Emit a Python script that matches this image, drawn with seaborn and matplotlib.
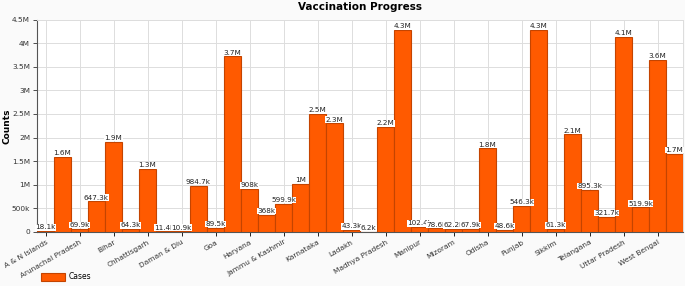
import matplotlib
matplotlib.use("Agg")
import matplotlib.pyplot as plt
import seaborn as sns
import pandas as pd
from matplotlib.ticker import FuncFormatter, MultipleLocator

states = ["A & N Islands", "Andhra Pradesh", "Arunachal Pradesh", "Assam", "Bihar",
          "Chandigarh", "Chhattisgarh", "Dadra & Nagar Haveli", "Daman & Diu", "Delhi",
          "Goa", "Gujarat", "Haryana", "Himachal Pradesh", "Jammu & Kashmir",
          "Jharkhand", "Karnataka", "Kerala", "Ladakh", "Lakshadweep",
          "Madhya Pradesh", "Maharashtra", "Manipur", "Meghalaya", "Mizoram",
          "Nagaland", "Odisha", "Puducherry", "Punjab", "Rajasthan",
          "Sikkim", "Tamil Nadu", "Telangana", "Tripura", "Uttar Pradesh",
          "Uttarakhand", "West Bengal", "Miscellaneous"]
cases = [18.1e3, 1.59e6, 69.9e3, 647.3e3, 1.91e6,
         64.3e3, 1.33e6, 11.4e3, 10.9e3, 984.7e3,
         89.5e3, 3.72e6, 908e3, 368e3, 599.9e3,
         1.02e6, 2.50e6, 2.30e6, 43.3e3, 6.2e3,
         2.22e6, 4.28e6, 102.4e3, 78.6e3, 62.2e3,
         67.9e3, 1.77e6, 48.6e3, 546.3e3, 4.28e6,
         61.3e3, 2.07e6, 895.3e3, 321.7e3, 4.13e6,
         519.9e3, 3.64e6, 1.66e6]

df = pd.DataFrame({"state": states, "cases": cases})


def short(v, _=None):
    if v == 0:
        return "0"
    if v >= 1e6:
        s = f"{v/1e6:.1f}".rstrip("0").rstrip(".")
        return s + "M"
    s = f"{v/1e3:.1f}".rstrip("0").rstrip(".")
    return s + "k"


fig = plt.figure(figsize=(6.85, 2.86), dpi=100, facecolor="#fafafa")
ax = fig.add_axes([37/685, 1-232/286, (683-37)/685, (232-19.5)/286])
ax.set_facecolor("white")

sns.barplot(data=df, x="state", y="cases", ax=ax, color="#ff5a00", saturation=1,
            width=1.0, edgecolor="#c44400", linewidth=0.8, label="Cases", zorder=3)

for i, v in enumerate(cases):
    ax.text(i, v + 15000, short(v), ha="center", va="bottom", fontsize=5.2,
            color="#222222", zorder=4,
            bbox=dict(boxstyle="square,pad=0.05", fc="white", ec="none"))

ax.set_xlim(-0.5, len(states) - 0.5)
ax.set_ylim(0, 4.5e6)
ax.yaxis.set_major_locator(MultipleLocator(5e5))
ax.yaxis.set_major_formatter(FuncFormatter(short))
ticks = list(range(0, len(states), 2))
ax.set_xticks(ticks)
ax.set_xticklabels([states[i] for i in ticks], rotation=30, ha="right",
                   rotation_mode="anchor", fontsize=5.3, color="#333333")
ax.tick_params(axis="y", labelsize=5.3, colors="#333333", length=3, width=0.6, pad=2)
ax.tick_params(axis="x", length=3, width=0.6, pad=2)

ax.grid(True, color="#dddddd", linewidth=0.7, zorder=0)
ax.set_axisbelow(True)
for s in ["top", "right"]:
    ax.spines[s].set_color("#dddddd")
    ax.spines[s].set_linewidth(0.7)
for s in ["left", "bottom"]:
    ax.spines[s].set_color("#555555")
    ax.spines[s].set_linewidth(0.8)

ax.set_xlabel("")
ax.set_ylabel("Counts", fontsize=6.5, fontweight="bold")
ax.yaxis.set_label_coords(-25/646, 0.5)
ax.set_title("Vaccination Progress", fontsize=7.5, fontweight="bold", pad=7)

leg = ax.legend(loc="lower left", bbox_to_anchor=(36/685, 0.0), bbox_transform=fig.transFigure,
                frameon=False, fontsize=5.5, handlelength=3.2, handleheight=1.3,
                borderpad=0.1, handletextpad=0.5)

fig.savefig("out.png", dpi=100, facecolor=fig.get_facecolor())
